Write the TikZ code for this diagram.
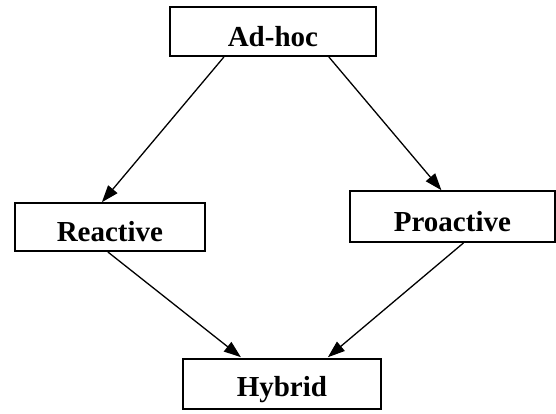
\documentclass[tikz,border=0pt]{standalone}
\usepackage{fontspec}
\setmainfont{Liberation Serif}
\usetikzlibrary{arrows.meta}
\begin{document}
\begin{tikzpicture}[x=1pt,y=-1pt,
  boxnode/.style={draw=black,line width=1.8pt,fill=white,inner sep=0pt,anchor=south west,
    font=\fontsize{29}{34}\selectfont\bfseries},
  arr/.style={line width=1.3pt,-{Triangle[length=17pt,width=12pt]}}]
\useasboundingbox (0,0) rectangle (556,413);
\node[boxnode,minimum width=206pt,text height=39pt,text depth=10pt] (adhoc) at (169,57) {Ad-hoc};
\node[boxnode,minimum width=190pt,text height=38pt,text depth=10pt] (reactive) at (14,252) {Reactive};
\node[boxnode,minimum width=205pt,text height=40pt,text depth=11pt] (proactive) at (349,243) {Proactive};
\node[boxnode,minimum width=198pt,text height=37pt,text depth=13pt] (hybrid) at (182,410) {Hybrid};
\draw[arr] ([xshift=-49pt]adhoc.south) -- ([xshift=-8pt]reactive.north);
\draw[arr] ([xshift=56pt]adhoc.south) -- ([xshift=-11pt]proactive.north);
\draw[arr] ([xshift=-2pt]reactive.south) -- ([xshift=-41pt,yshift=1pt]hybrid.north);
\draw[arr] ([xshift=11pt]proactive.south) -- ([xshift=46pt,yshift=1pt]hybrid.north);
\end{tikzpicture}
\end{document}
